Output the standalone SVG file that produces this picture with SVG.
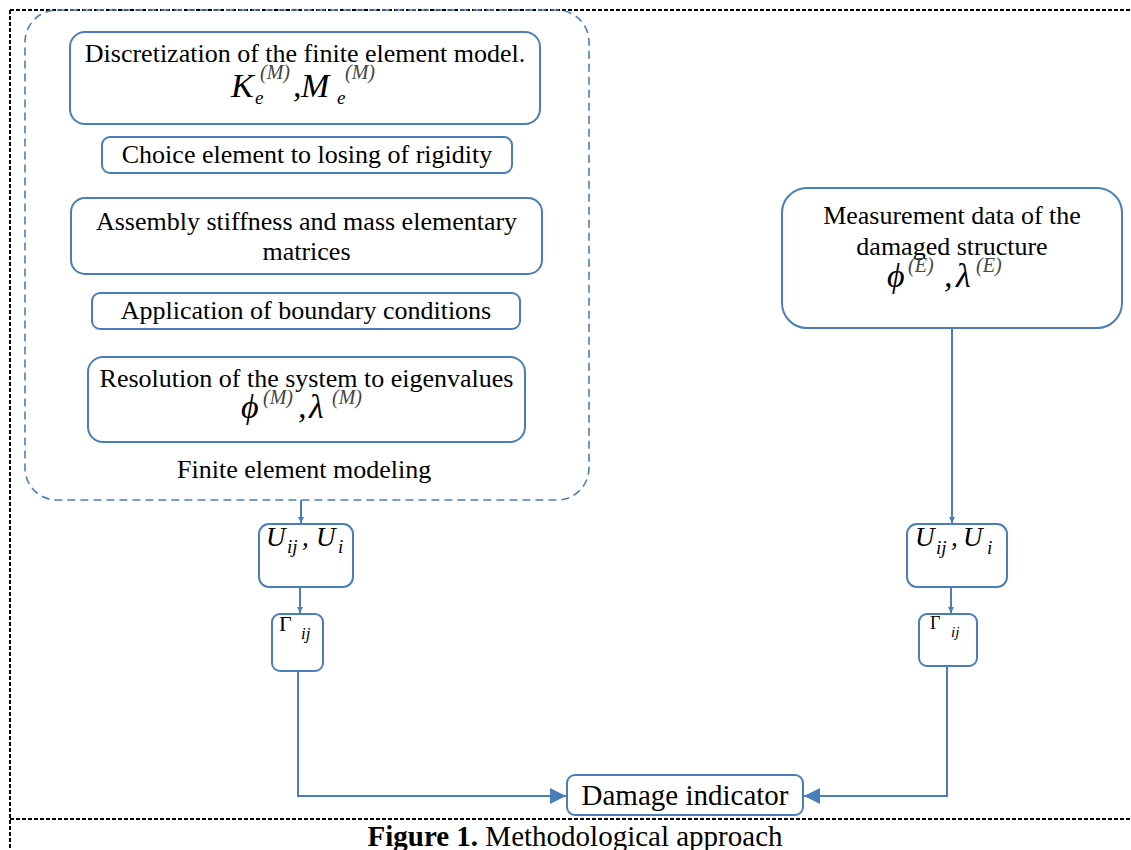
<svg xmlns="http://www.w3.org/2000/svg" width="1131" height="850" viewBox="0 0 1131 850">
<defs>
<style>
.frame{fill:none;stroke:#000;stroke-width:2;stroke-dasharray:4 2}
.cont{fill:none;stroke:#4A7EBB;stroke-width:1.6;stroke-dasharray:8 5}
.box{fill:#fff;stroke:#4A7EBB;stroke-width:2}
.conn{fill:none;stroke:#4A7EBB;stroke-width:2}
.t{font-family:"Liberation Serif","Times New Roman",serif;font-size:26px;fill:#000}
.t29{font-family:"Liberation Serif","Times New Roman",serif;font-size:29px;fill:#000}
.m{font-family:"Liberation Serif","Times New Roman",serif;font-style:italic;fill:#000}
.big{font-size:34px}
.mid{font-size:27px}
.sub{font-size:19px}
.sup{font-size:20px;fill:#444}
.g{font-style:normal}
</style>
<marker id="ah" viewBox="0 0 10 10" refX="10" refY="5" markerWidth="6" markerHeight="6" markerUnits="userSpaceOnUse" orient="auto">
<path d="M0,0 L10,5 L0,10 z" fill="#4A7EBB"/>
</marker>
<marker id="ahs" viewBox="0 0 10 10" refX="10" refY="5" markerWidth="8" markerHeight="8" orient="auto">
<path d="M0,0 L10,5 L0,10 z" fill="#4A7EBB"/>
</marker>
</defs>
<rect width="1131" height="850" fill="#fff"/>

<g id="frame">
<line class="frame" x1="10" y1="10" x2="1131" y2="10"/>
<line class="frame" x1="10" y1="10" x2="10" y2="850"/>
<line class="frame" x1="10" y1="819" x2="1131" y2="819"/>
</g>

<g id="fem-container">
<rect class="cont" x="25" y="10" width="564" height="490" rx="32"/>
<text class="t" x="177" y="478">Finite element modeling</text>
</g>

<g id="n-discretization">
<rect class="box" x="70" y="32" width="470" height="92" rx="15"/>
<text class="t" x="305" y="62" text-anchor="middle">Discretization of the finite element model.</text>
<text class="m"><tspan class="big" x="231" y="97">K</tspan><tspan class="sub" x="255" y="104">e</tspan><tspan class="sup" x="260" y="79">(M)</tspan><tspan class="big" x="293" y="97">,</tspan><tspan class="big" x="301" y="97">M</tspan><tspan class="sub" x="337" y="104">e</tspan><tspan class="sup" x="345" y="79">(M)</tspan></text>
</g>

<g id="n-choice">
<rect class="box" x="102" y="137" width="410" height="36" rx="8"/>
<text class="t" x="307" y="163" text-anchor="middle">Choice element to losing of rigidity</text>
</g>

<g id="n-assembly">
<rect class="box" x="71" y="198" width="471" height="76" rx="14"/>
<text class="t" x="306.5" y="230" text-anchor="middle">Assembly stiffness and mass elementary</text>
<text class="t" x="306.5" y="260" text-anchor="middle">matrices</text>
</g>

<g id="n-boundary">
<rect class="box" x="92" y="293" width="428" height="36" rx="8"/>
<text class="t" x="306" y="319" text-anchor="middle">Application of boundary conditions</text>
</g>

<g id="n-resolution">
<rect class="box" x="88" y="357" width="437" height="85" rx="15"/>
<text class="t" x="306.5" y="387" text-anchor="middle">Resolution of the system to eigenvalues</text>
<text class="m"><tspan class="big" x="241" y="418">ϕ</tspan><tspan class="sup" x="263" y="404">(M)</tspan><tspan class="big" x="298" y="418">,</tspan><tspan class="big" x="309" y="418">λ</tspan><tspan class="sup" x="332" y="404">(M)</tspan></text>
</g>

<g id="n-measurement">
<rect class="box" x="782" y="188" width="340" height="140" rx="25"/>
<text class="t" x="952" y="224" text-anchor="middle">Measurement data of the</text>
<text class="t" x="952" y="255" text-anchor="middle">damaged structure</text>
<text class="m"><tspan class="big" x="887" y="287">ϕ</tspan><tspan class="sup" x="908" y="272">(E)</tspan><tspan class="big" x="944" y="287">,</tspan><tspan class="big" x="956" y="287">λ</tspan><tspan class="sup" x="976" y="272">(E)</tspan></text>
</g>

<g id="n-uij-left">
<rect class="box" x="259" y="524" width="94" height="63" rx="10"/>
<text class="m"><tspan class="mid" x="266" y="546">U</tspan><tspan class="sub" x="287" y="553">ij</tspan><tspan class="mid" x="302" y="546">,</tspan><tspan class="mid" x="316" y="546">U</tspan><tspan class="sub" x="338" y="553">i</tspan></text>
</g>

<g id="n-gamma-left">
<rect class="box" x="272" y="614" width="51" height="57" rx="8"/>
<text class="m"><tspan class="g" font-size="22" x="279" y="631">Γ</tspan><tspan font-size="17" x="301" y="639">ij</tspan></text>
</g>

<g id="n-uij-right">
<rect class="box" x="907" y="524" width="100" height="63" rx="10"/>
<text class="m"><tspan class="mid" x="915" y="546">U</tspan><tspan class="sub" x="936" y="554">ij</tspan><tspan class="mid" x="951" y="546">,</tspan><tspan class="mid" x="963" y="546">U</tspan><tspan class="sub" x="987" y="554">i</tspan></text>
</g>

<g id="n-gamma-right">
<rect class="box" x="919" y="614" width="58" height="52" rx="8"/>
<text class="m"><tspan class="g" font-size="18" x="930" y="629">Γ</tspan><tspan font-size="15" x="951" y="637">ij</tspan></text>
</g>

<g id="n-damage">
<rect class="box" x="567" y="775" width="236" height="40" rx="8"/>
<text class="t29" x="685" y="805" text-anchor="middle">Damage indicator</text>
</g>

<g id="connectors">
<line class="conn" x1="301" y1="500" x2="301" y2="523" marker-end="url(#ah)"/>
<line class="conn" x1="300" y1="587" x2="300" y2="613" marker-end="url(#ah)"/>
<polyline class="conn" points="298,671 298,796 566,796" marker-end="url(#ahs)"/>
<line class="conn" x1="952" y1="328" x2="952" y2="523" marker-end="url(#ah)"/>
<line class="conn" x1="951" y1="587" x2="951" y2="613" marker-end="url(#ah)"/>
<polyline class="conn" points="947,666 947,796 804,796" marker-end="url(#ahs)"/>
</g>

<g id="caption">
<text class="t29" x="575" y="846" text-anchor="middle"><tspan font-weight="bold">Figure 1.</tspan> Methodological approach</text>
</g>
</svg>
